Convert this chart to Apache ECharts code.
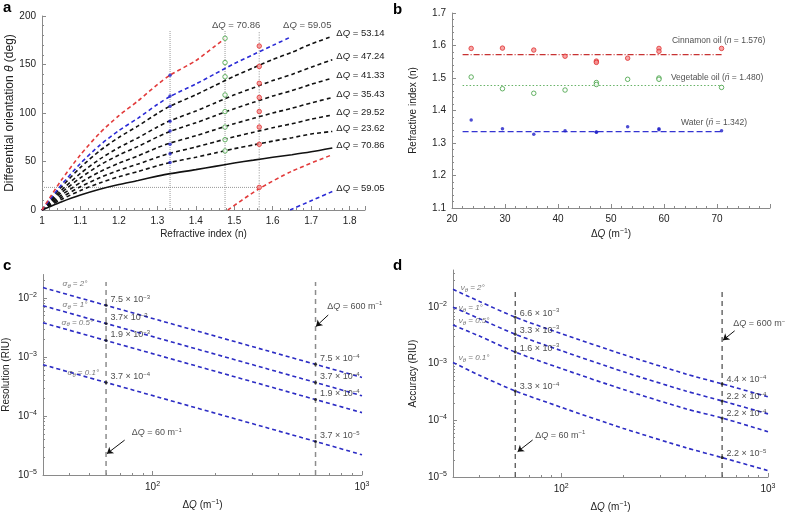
<!DOCTYPE html>
<html lang="en">
<head>
<meta charset="utf-8">
<title>Differential orientation, refractive index, resolution and accuracy</title>
<script src="https://cdn.jsdelivr.net/npm/echarts@6.0.0/dist/echarts.min.js"></script>
<style>
  body { margin: 0; background: #fff; }
  #main { width: 785px; height: 513px; }
</style>
</head>
<body>
<div id="main"></div>
<script>
// ---------- panel a : theta vs n for each dQ ----------
var nFull = [1, 1.02, 1.05, 1.1, 1.15, 1.2, 1.25, 1.3, 1.333, 1.4, 1.45, 1.5, 1.55, 1.6, 1.65, 1.7, 1.755];
var thSolid = [0, 3.4, 8.3, 15.4, 21.4, 26.3, 30.4, 34.9, 37.5, 41.6, 45, 48.4, 51.4, 54.4, 57, 60, 64];
var th2362 = [0, 4.4, 10.8, 20.1, 27.9, 34.3, 39.7, 45.6, 49, 54.4, 58.8, 63.2, 67.1, 71, 74.5, 78.4, 81];
var th2952 = [0, 5.3, 12.9, 24, 33.3, 41, 47.4, 54.4, 58.5, 64.9, 70.2, 75.5, 80.1, 84.8, 88.9, 93.6, 98];
var th3543 = [0, 6.2, 15.2, 28.3, 39.3, 48.3, 55.9, 64.2, 69, 76.6, 82.8, 89, 94.5, 100, 104.9, 110.4, 116];
var th4133 = [0, 7.3, 17.8, 33.2, 46.2, 56.7, 65.6, 75.3, 81, 89.9, 97.2, 104.5, 111, 117.5, 123.1, 129.6, 136];
var th4724 = [0, 8.3, 20.2, 37.7, 52.4, 64.4, 74.5, 85.6, 92, 102, 110.4, 118.7, 126, 133.4, 139.8, 147.2, 155];
var th5314 = [0, 9.6, 23.5, 43.9, 61, 74.9, 86.7, 99.5, 107, 118.8, 128.4, 138, 146.6, 155.2, 162.6, 171.2, 179];
var nBlueTop = [1, 1.02, 1.05, 1.1, 1.15, 1.2, 1.25, 1.3, 1.333, 1.4, 1.45, 1.5, 1.55, 1.6, 1.645];
var thBlueTop = [0, 10.5, 25.7, 48, 66.7, 81.9, 94.8, 108.8, 117, 129.9, 140.4, 150.9, 160.3, 169.7, 178];
var nBlueLow = [1.645, 1.7, 1.755];
var thBlueLow = [0, 9.5, 19];
var nRedTop = [1, 1.02, 1.05, 1.1, 1.15, 1.2, 1.25, 1.3, 1.333, 1.4, 1.45, 1.476];
var thRedTop = [0, 12.5, 30.6, 57, 79.2, 97.3, 112.6, 129.3, 139, 154, 169, 177];
var nRedLow = [1.483, 1.565, 1.65, 1.755];
var thRedLow = [0, 22, 40, 57];

var nWater = 1.333, nVeg = 1.476, nCinn = 1.565;
var ptsWater = [139, 117.6, 107, 91.6, 81.4, 67.7, 58, 48.9];
var ptsVeg = [177, 152, 137.4, 118.6, 101.5, 85.5, 72.5, 60.9];
var ptsCinn = [169, 148, 130.6, 116, 101.5, 85.5, 67.7, 23.3];

// ---------- panel b : measured n vs dQ ----------
var dq = [23.62, 29.52, 35.43, 41.33, 47.24, 47.24, 53.14, 59.05, 59.05, 70.86];
var nCinnMeas = [1.591, 1.592, 1.586, 1.567, 1.552, 1.548, 1.561, 1.591, 1.582, 1.591];
var nVegMeas = [1.503, 1.467, 1.453, 1.463, 1.486, 1.480, 1.496, 1.500, 1.496, 1.471];
var nWaterMeas = [1.371, 1.344, 1.327, 1.338, 1.334, 1.333, 1.350, 1.344, 1.341, 1.338];
var meanSpan = [22, 71];
var meanCinn = 1.572, meanVeg = 1.477, meanWater = 1.335;

// ---------- panel c : resolution vs dQ ----------
var dqLog = [30, 60, 600, 1000];
var res2 = [0.015, 0.0075, 0.00075, 0.00045];
var res1 = [0.0074, 0.0037, 0.00037, 0.00022];
var res05 = [0.0038, 0.0019, 0.00019, 0.000114];
var res01 = [0.00074, 0.00037, 0.000037, 0.000022];
var resLab60 = ['7.5 × 10{s|−3}', '3.7× 10{s|−3}', '1.9 × 10{s|−3}', '3.7 × 10{s|−4}'];
var resLab600 = ['7.5 × 10{s|−4}', '3.7 × 10{s|−4}', '1.9 × 10{s|−4}', '3.7 × 10{s|−5}'];

// ---------- panel d : accuracy vs dQ ----------
var dqAcc = [30, 40, 60, 100, 200, 400, 600, 1000];
var acc2 = [0.0205, 0.0127, 0.0066, 0.0034, 0.00145, 0.00066, 0.00044, 0.00026];
var acc1 = [0.0099, 0.0063, 0.0033, 0.0017, 0.00072, 0.00033, 0.00022, 0.00013];
var acc05 = [0.0048, 0.0031, 0.0016, 0.00082, 0.00035, 0.00016, 0.00011, 0.000063];
var acc01 = [0.00105, 0.00063, 0.00033, 0.00017, 0.000072, 0.000033, 0.000022, 0.000013];
var accLab60 = ['6.6 × 10{s|−3}', '3.3 × 10{s|−3}', '1.6 × 10{s|−3}', '3.3 × 10{s|−4}'];
var accLab600 = ['4.4 × 10{s|−4}', '2.2 × 10{s|−4}', '2.2 × 10{s|−4}', '2.2 × 10{s|−5}'];

var logMajorX = [100, 1000];
var logMinorX = [40, 50, 60, 70, 80, 90, 200, 300, 400, 500, 600, 700, 800, 900];
var logMajorY = [1e-5, 1e-4, 1e-3, 1e-2];
var logMinorY = [2e-5, 3e-5, 4e-5, 5e-5, 6e-5, 7e-5, 8e-5, 9e-5, 2e-4, 3e-4, 4e-4, 5e-4, 6e-4, 7e-4, 8e-4, 9e-4,
  2e-3, 3e-3, 4e-3, 5e-3, 6e-3, 7e-3, 8e-3, 9e-3, 2e-2, 3e-2, 4e-2];

var FONT = 'Liberation Sans';
var AXC = '#8a8a8a';
var TXT = '#222';
var RED = '#e23b3b', BLUE = '#2b2bd6', BLK = '#111';
var LBLUE = '#2c2cc4';

var chart = echarts.init(document.getElementById('main'));

function pairs(xs, ys) {
  return xs.map(function (x, i) { return [x, ys[i]]; });
}
function richSet(size) {
  return {
    i: { fontStyle: 'italic', fontSize: size, fontFamily: FONT, color: TXT },
    s: { fontSize: Math.round(size * 0.7), padding: [0, 0, Math.round(size * 0.55), 0], fontFamily: FONT, color: TXT },
    g: { fontSize: 8, fontFamily: FONT, color: '#555', fontStyle: 'italic' },
    gs: { fontSize: 6, fontFamily: FONT, color: '#555', fontStyle: 'italic', padding: [5, 0, 0, 0] }
  };
}
function logFmt(v) {
  var e = Math.round(Math.log10(v));
  return '10{s|' + (e < 0 ? '−' : '') + Math.abs(e) + '}';
}

// axis pieces
function linX(grid, min, max, interval, fmt, name, gap, nameSize) {
  return {
    type: 'value', gridIndex: grid, min: min, max: max, interval: interval, position: 'bottom',
    name: name, nameLocation: 'middle', nameGap: gap,
    nameTextStyle: { fontFamily: FONT, fontSize: nameSize || 10, color: TXT, rich: richSet(nameSize || 10) },
    axisLine: { lineStyle: { color: AXC, width: 1 } },
    axisTick: { inside: true, length: 4, lineStyle: { color: AXC } },
    minorTick: { show: true, splitNumber: 5, length: 2, lineStyle: { color: AXC } },
    axisLabel: { formatter: fmt, fontFamily: FONT, fontSize: 10, color: TXT, margin: 6, showMaxLabel: false },
    splitLine: { show: false }
  };
}
function linY(grid, min, max, interval, fmt, name, gap, nameSize) {
  var a = linX(grid, min, max, interval, fmt, name, gap, nameSize);
  a.position = 'left';
  a.axisLabel.showMaxLabel = true;
  return a;
}
function logAxis(grid, min, max, dim, name, gap) {
  return {
    type: 'log', logBase: 10, gridIndex: grid, min: min, max: max,
    position: dim === 'x' ? 'bottom' : 'left',
    name: name, nameLocation: 'middle', nameGap: gap,
    nameTextStyle: { fontFamily: FONT, fontSize: 10, color: TXT, rich: richSet(10) },
    axisLine: { lineStyle: { color: AXC, width: 1 } },
    axisTick: { inside: true, length: 4, lineStyle: { color: AXC }, customValues: dim === 'x' ? logMajorX : logMajorY },
    axisLabel: {
      formatter: logFmt, fontFamily: FONT, fontSize: 10, color: TXT, margin: 6,
      customValues: dim === 'x' ? logMajorX : logMajorY, rich: richSet(10)
    },
    splitLine: { show: false }, minorTick: { show: false }
  };
}
function logMinor(grid, min, max, dim) {
  return {
    type: 'log', logBase: 10, gridIndex: grid, min: min, max: max,
    position: dim === 'x' ? 'bottom' : 'left',
    axisLine: { show: false },
    axisTick: { inside: true, length: 2, lineStyle: { color: AXC }, customValues: dim === 'x' ? logMinorX : logMinorY },
    axisLabel: { show: false }, splitLine: { show: false }
  };
}

// series builders
function curve(xi, yi, xs, ys, color, dash, endText) {
  var s = {
    type: 'line', xAxisIndex: xi, yAxisIndex: yi, data: pairs(xs, ys), symbol: 'none',
    smooth: 0.25, silent: true, animation: false,
    lineStyle: { color: color, width: 1.6, type: dash ? [4, 3] : 'solid' }
  };
  if (endText) {
    s.endLabel = {
      show: true, formatter: endText, distance: 4, offset: [0, -3],
      fontFamily: FONT, fontSize: 9.5, color: TXT, rich: richSet(9.5)
    };
  }
  return s;
}
function guide(xi, yi, pts, color, type, width) {
  return {
    type: 'line', xAxisIndex: xi, yAxisIndex: yi, data: pts, symbol: 'none', silent: true,
    animation: false, lineStyle: { color: color, type: type, width: width || 1 }
  };
}
function dots(xi, yi, pts, size, style, extra) {
  var s = {
    type: 'scatter', xAxisIndex: xi, yAxisIndex: yi, data: pts, symbol: 'circle', symbolSize: size,
    silent: true, animation: false, z: 4, itemStyle: style
  };
  for (var k in extra) s[k] = extra[k];
  return s;
}
function notes(xi, yi, pts, size) {
  return {
    type: 'scatter', xAxisIndex: xi, yAxisIndex: yi, data: pts, symbolSize: 0, silent: true, animation: false, z: 6,
    label: {
      show: true, position: 'right', distance: 0, formatter: function (p) { return p.data[2]; },
      fontFamily: FONT, fontSize: size, color: TXT, rich: richSet(size)
    }
  };
}
function arrows(xi, yi, segs) {
  return {
    type: 'line', xAxisIndex: xi, yAxisIndex: yi, data: [], silent: true, animation: false,
    markLine: {
      silent: true, animation: false, symbol: ['none', 'arrow'], symbolSize: 6,
      lineStyle: { color: '#111', type: 'solid', width: 1 }, label: { show: false },
      data: segs.map(function (g) { return [{ coord: g[0] }, { coord: g[1] }]; })
    }
  };
}
function labelled(xi, yi, x, ys, texts, dy) {
  return dots(xi, yi, ys.map(function (y, i) { return [x, y, texts[i]]; }), 3, { color: '#111' }, {
    label: {
      show: true, position: 'right', distance: 3, offset: [0, dy],
      formatter: function (p) { return p.data[2]; },
      fontFamily: FONT, fontSize: 9, color: TXT, rich: richSet(9)
    }
  });
}

var waterStyle = { color: '#1f1fc8' };
var vegStyle = { color: '#fff', borderColor: '#3f9f3f', borderWidth: 1 };
var cinnStyle = { color: '#f49090', borderColor: '#e03030', borderWidth: 1 };

var dQ = 'Δ{i|Q}';
var series = [];

// panel a
series.push(guide(0, 0, [[nWater, 0], [nWater, 185]], '#9a9a9a', 'dotted'));
series.push(guide(0, 0, [[nVeg, 0], [nVeg, 185]], '#9a9a9a', 'dotted'));
series.push(guide(0, 0, [[nCinn, 0], [nCinn, 185]], '#bdbdbd', 'dotted', 1.3));
series.push(guide(0, 0, [[1, 23.3], [nCinn, 23.3]], '#9a9a9a', 'dotted'));
series.push(curve(0, 0, nFull, thSolid, BLK, false, dQ + ' = 70.86'));
series.push(curve(0, 0, nFull, th2362, BLK, true, dQ + ' = 23.62'));
series.push(curve(0, 0, nFull, th2952, BLK, true, dQ + ' = 29.52'));
series.push(curve(0, 0, nFull, th3543, BLK, true, dQ + ' = 35.43'));
series.push(curve(0, 0, nFull, th4133, BLK, true, dQ + ' = 41.33'));
series.push(curve(0, 0, nFull, th4724, BLK, true, dQ + ' = 47.24'));
series.push(curve(0, 0, nFull, th5314, BLK, true, dQ + ' = 53.14'));
series.push(curve(0, 0, nBlueTop, thBlueTop, BLUE, true));
series.push(curve(0, 0, nBlueLow, thBlueLow, BLUE, true, dQ + ' = 59.05'));
series.push(curve(0, 0, nRedTop, thRedTop, RED, true));
series.push(curve(0, 0, nRedLow, thRedLow, RED, true));
series.push(dots(0, 0, ptsWater.map(function (v) { return [nWater, v]; }), 3.5, waterStyle));
series.push(dots(0, 0, ptsVeg.map(function (v) { return [nVeg, v]; }), 4.5, vegStyle));
series.push(dots(0, 0, ptsCinn.map(function (v) { return [nCinn, v]; }), 4.5, cinnStyle));
series.push(notes(0, 0, [[1.442, 190.8, dQ + ' = 70.86'], [1.627, 190.8, dQ + ' = 59.05']], 9.5));

// panel b
series.push(guide(1, 1, [[meanSpan[0], meanCinn], [meanSpan[1], meanCinn]], '#c83232', [6, 2, 1, 2], 1.1));
series.push(guide(1, 1, [[meanSpan[0], meanVeg], [meanSpan[1], meanVeg]], '#66b266', [1.5, 2], 1.1));
series.push(guide(1, 1, [[meanSpan[0], meanWater], [meanSpan[1], meanWater]], '#3434d2', [6, 3], 1.1));
series.push(dots(1, 1, pairs(dq, nCinnMeas), 4.5, cinnStyle));
series.push(dots(1, 1, pairs(dq, nVegMeas), 4.5, vegStyle));
series.push(dots(1, 1, pairs(dq, nWaterMeas), 3.5, waterStyle));
series.push(notes(1, 1, [
  [61.5, 1.616, 'Cinnamon oil ({i|n} = 1.576)'],
  [61.3, 1.5, 'Vegetable oil ({i|n̄} = 1.480)'],
  [63.2, 1.362, 'Water ({i|n̄} = 1.342)']
], 8.5));

// panel c
[res2, res1, res05, res01].forEach(function (r) {
  series.push(curve(2, 2, dqLog, r, LBLUE, true));
});
series.push(guide(2, 2, [[60, 1e-5], [60, 0.0187]], '#8c8c8c', [5, 4], 1.5));
series.push(guide(2, 2, [[600, 1e-5], [600, 0.0187]], '#8c8c8c', [5, 4], 1.5));
series.push(labelled(2, 2, 60, [res2[1], res1[1], res05[1], res01[1]], resLab60, -6));
series.push(labelled(2, 2, 600, [res2[2], res1[2], res05[2], res01[2]], resLab600, -6));
series.push(notes(2, 2, [
  [37.2, 0.0177, '{g|σ}{gs|θ}{g| = 2°}'],
  [37.2, 0.0078, '{g|σ}{gs|θ}{g| = 1°}'],
  [36.8, 0.00387, '{g|σ}{gs|θ}{g| = 0.5°}'],
  [39.3, 0.000536, '{g|σ}{gs|θ}{g| = 0.1°}']
], 8));
series.push(notes(2, 2, [
  [79.6, 5.15e-5, dQ + ' = 60 m{s|−1}'],
  [683, 7.3e-3, dQ + ' = 600 m{s|−1}']
], 9));
series.push(arrows(2, 2, [
  [[73.6, 3.9e-5], [60.6, 2.3e-5]],
  [[690, 5.15e-3], [603, 3.3e-3]]
]));

// panel d
[acc2, acc1, acc05, acc01].forEach(function (r) {
  series.push(curve(4, 4, dqAcc, r, LBLUE, true));
});
series.push(guide(4, 4, [[60, 1e-5], [60, 0.021]], '#555', [5, 4], 1.3));
series.push(guide(4, 4, [[600, 1e-5], [600, 0.021]], '#555', [5, 4], 1.3));
series.push(labelled(4, 4, 60, [acc2[2], acc1[2], acc05[2], acc01[2]], accLab60, -4));
series.push(labelled(4, 4, 600, [acc2[6], acc1[6], acc05[6], acc01[6]], accLab600, -4));
series.push(notes(4, 4, [
  [32.7, 0.0216, '{g|ν}{gs|θ}{g| = 2°}'],
  [32.0, 0.0096, '{g|ν}{gs|θ}{g| = 1°}'],
  [32.0, 0.00566, '{g|ν}{gs|θ}{g| = 0.5°}'],
  [32.0, 0.00128, '{g|ν}{gs|θ}{g| = 0.1°}']
], 8));
series.push(notes(4, 4, [
  [75, 5.5e-5, dQ + ' = 60 m{s|−1}'],
  [680, 5.07e-3, dQ + ' = 600 m{s|−1}']
], 9));
series.push(arrows(4, 4, [
  [[690, 3.8e-3], [606, 2.6e-3]],
  [[72.8, 4.5e-5], [61.6, 2.8e-5]]
]));

var nFmt = function (v) { return Math.abs(v - 1) < 1e-9 ? '1' : v.toFixed(1); };

chart.setOption({
  animation: false,
  textStyle: { fontFamily: FONT },
  grid: [
    { left: 42, top: 16, width: 323, height: 194, outerBoundsMode: 'none' },
    { left: 452, top: 13, width: 318, height: 195, outerBoundsMode: 'none' },
    { left: 43, top: 274.5, width: 319, height: 200.5, outerBoundsMode: 'none' },
    { left: 453, top: 270, width: 315, height: 207, outerBoundsMode: 'none' }
  ],
  xAxis: [
    linX(0, 1, 1.84, 0.1, nFmt, 'Refractive index (n)', 19),
    linX(1, 20, 80, 10, null, dQ + ' (m{s|−1})', 20),
    logAxis(2, 30, 1000, 'x', dQ + ' (m{s|−1})', 24),
    logMinor(2, 30, 1000, 'x'),
    logAxis(3, 30, 1000, 'x', dQ + ' (m{s|−1})', 24),
    logMinor(3, 30, 1000, 'x')
  ],
  yAxis: [
    linY(0, 0, 200, 50, null, 'Differential orientation {i|θ} (deg)', 25, 12),
    linY(1, 1.1, 1.7, 0.1, function (v) { return v.toFixed(1); }, 'Refractive index (n)', 34),
    logAxis(2, 1e-5, 0.025, 'y', 'Resolution (RIU)', 32),
    logMinor(2, 1e-5, 0.025, 'y'),
    logAxis(3, 1e-5, 0.045, 'y', 'Accuracy (RIU)', 35),
    logMinor(3, 1e-5, 0.045, 'y')
  ],
  graphic: [
    { type: 'text', left: 3, top: 0, style: { text: 'a', font: 'bold 15px Liberation Sans', fill: '#000' } },
    { type: 'text', left: 393, top: 2, style: { text: 'b', font: 'bold 15px Liberation Sans', fill: '#000' } },
    { type: 'text', left: 3, top: 258, style: { text: 'c', font: 'bold 15px Liberation Sans', fill: '#000' } },
    { type: 'text', left: 393, top: 258, style: { text: 'd', font: 'bold 15px Liberation Sans', fill: '#000' } }
  ],
  series: series
});
</script>
</body>
</html>
